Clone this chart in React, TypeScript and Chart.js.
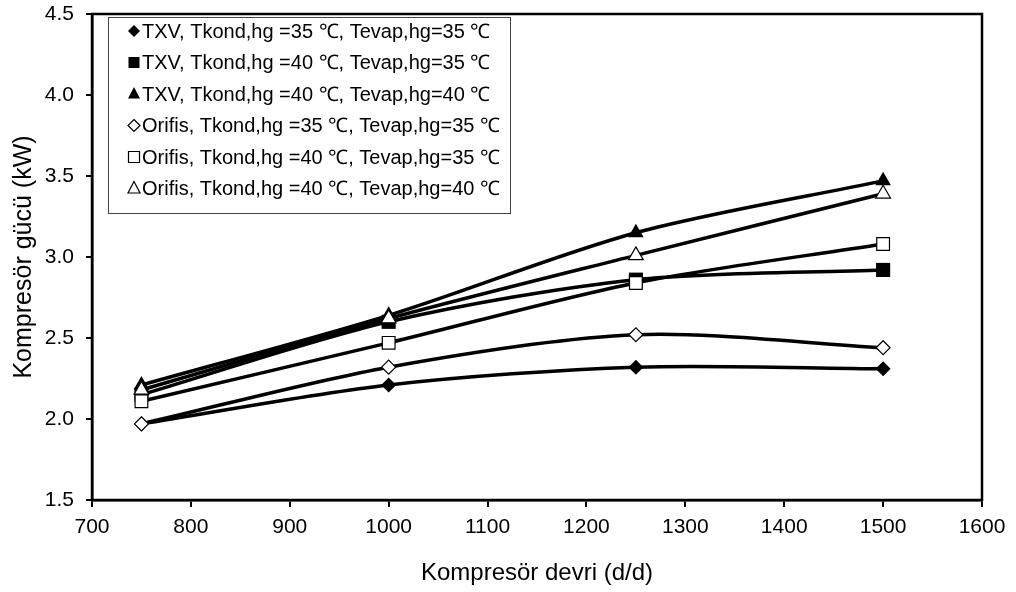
import React, { useEffect, useRef } from "react";
import { Chart, registerables } from "chart.js";

Chart.register(...registerables);

const speeds = [750, 1000, 1250, 1500];
const txv3535 = [1.97, 2.21, 2.32, 2.31];
const txv4035 = [2.15, 2.6, 2.86, 2.92];
const txv4040 = [2.21, 2.64, 3.15, 3.47];
const ori3535 = [1.97, 2.32, 2.52, 2.44];
const ori4035 = [2.11, 2.47, 2.84, 3.08];
const ori4040 = [2.18, 2.62, 3.01, 3.39];
const seriesLabels = [
  "TXV, Tkond,hg =35 \u2103, Tevap,hg=35 \u2103",
  "TXV, Tkond,hg =40 \u2103, Tevap,hg=35 \u2103",
  "TXV, Tkond,hg =40 \u2103, Tevap,hg=40 \u2103",
  "Orifis, Tkond,hg =35 \u2103, Tevap,hg=35 \u2103",
  "Orifis, Tkond,hg =40 \u2103, Tevap,hg=35 \u2103",
  "Orifis, Tkond,hg =40 \u2103, Tevap,hg=40 \u2103",
];
const xTitle = "Kompresör devri (d/d)";
const yTitle = "Kompresör gücü (kW)";

const FONT = "'Liberation Sans', Arial, sans-serif";

const styles = [
  { style: "rectRot", fill: true, r: 7.5 },
  { style: "rect", fill: true, r: 10 },
  { style: "triangle", fill: true, r: 9 },
  { style: "rectRot", fill: false, r: 7 },
  { style: "rect", fill: false, r: 9 },
  { style: "triangle", fill: false, r: 8.5 },
];

function drawMarker(ctx: CanvasRenderingContext2D, style: string, x: number, y: number, r: number, fill: boolean) {
  ctx.beginPath();
  if (style === "rectRot") {
    ctx.moveTo(x, y - r);
    ctx.lineTo(x + r, y);
    ctx.lineTo(x, y + r);
    ctx.lineTo(x - r, y);
  } else if (style === "rect") {
    ctx.rect(x - r, y - r, 2 * r, 2 * r);
  } else {
    ctx.moveTo(x, y - r - 1);
    ctx.lineTo(x + r, y + r * 0.75);
    ctx.lineTo(x - r, y + r * 0.75);
  }
  ctx.closePath();
  if (fill) {
    ctx.fillStyle = "#000";
    ctx.fill();
  } else {
    ctx.fillStyle = "#fff";
    ctx.fill();
    ctx.strokeStyle = "#000";
    ctx.lineWidth = 1.2;
    ctx.stroke();
  }
}

const frameLegend = {
  id: "frameLegend",
  afterDraw(chart: any) {
    const { ctx, chartArea } = chart;
    ctx.save();
    ctx.strokeStyle = "#000";
    ctx.lineWidth = 2.5;
    ctx.strokeRect(chartArea.left, chartArea.top, chartArea.right - chartArea.left, chartArea.bottom - chartArea.top);
    const lx = chartArea.left + 16;
    const ly = chartArea.top + 3;
    const w = 402;
    const h = 196;
    ctx.fillStyle = "#fff";
    ctx.fillRect(lx, ly, w, h);
    ctx.lineWidth = 1;
    ctx.strokeStyle = "#444";
    ctx.strokeRect(lx + 0.5, ly + 0.5, w, h);
    ctx.font = `20px ${FONT}`;
    ctx.textBaseline = "middle";
    ctx.textAlign = "left";
    for (let i = 0; i < seriesLabels.length; i++) {
      const cy = ly + 14 + i * 31.5;
      const st = styles[i];
      const r = st.style === "rect" ? 5.5 : 6;
      drawMarker(ctx, st.style, lx + 26, cy, r, st.fill);
      ctx.fillStyle = "#000";
      ctx.fillText(seriesLabels[i], lx + 34, cy + 1);
    }
    ctx.restore();
  },
};

export default function App() {
  const ref = useRef<HTMLCanvasElement>(null);
  useEffect(() => {
    document.body.style.margin = "0";
    const all = [txv3535, txv4035, txv4040, ori3535, ori4035, ori4040];
    const order = [3, 4, 5, 0, 1, 2];
    const datasets = order.map((i) => ({
      label: seriesLabels[i],
      data: speeds.map((x, k) => ({ x, y: all[i][k] })),
      borderColor: "#000",
      borderWidth: 3.5,
      tension: 0.3,
      pointStyle: styles[i].style,
      pointRadius: styles[i].r,
      pointBackgroundColor: styles[i].fill ? "#000" : "#fff",
      pointBorderColor: "#000",
      pointBorderWidth: styles[i].fill ? 0 : 1.2,
      fill: false,
    }));
    const chart = new Chart(ref.current!, {
      type: "line",
      data: { datasets },
      options: {
        animation: false,
        responsive: false,
        layout: { padding: { top: 14, right: 34, left: 0, bottom: 0 } },
        plugins: { legend: { display: false }, tooltip: { enabled: false } },
        scales: {
          x: {
            type: "linear",
            min: 700,
            max: 1600,
            ticks: { stepSize: 100, color: "#000", font: { family: FONT, size: 21 }, padding: 8, callback: (v: any) => String(v) },
            grid: { drawOnChartArea: false, drawTicks: true, tickLength: 7, color: "#000", lineWidth: 2 },
            border: { color: "#000", width: 2.5 },
            title: { display: true, text: xTitle, color: "#000", font: { family: FONT, size: 24 }, padding: { top: 10 } },
            afterFit(scale: any) { scale.height = 92; scale.paddingLeft = 0; scale.paddingRight = 0; },
          },
          y: {
            min: 1.5,
            max: 4.5,
            ticks: { stepSize: 0.5, color: "#000", font: { family: FONT, size: 21 }, padding: 12, callback: (v: any) => Number(v).toFixed(1) },
            grid: { drawOnChartArea: false, drawTicks: true, tickLength: 6, color: "#000", lineWidth: 2 },
            border: { color: "#000", width: 2.5 },
            title: { display: true, text: yTitle, color: "#000", font: { family: FONT, size: 25 }, padding: { top: 9, bottom: 0 } },
            afterFit(scale: any) { scale.width = 92; scale.paddingTop = 0; scale.paddingBottom = 0; },
          },
        },
      },
      plugins: [frameLegend],
    } as any);
    return () => chart.destroy();
  }, []);
  return <canvas ref={ref} width={1016} height={592} style={{ display: "block" }} />;
}
